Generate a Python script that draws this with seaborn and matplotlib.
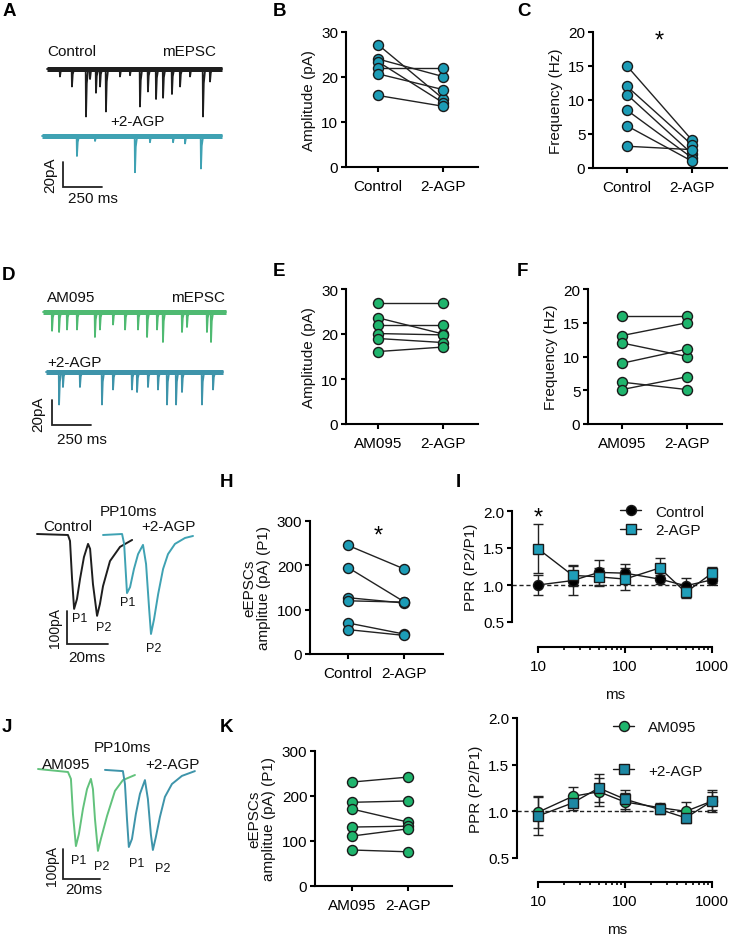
import numpy as np
import pandas as pd
import matplotlib
matplotlib.use("Agg")
import matplotlib.pyplot as plt
from matplotlib.lines import Line2D
from matplotlib.ticker import FixedLocator, NullFormatter, FixedFormatter
import seaborn as sns

sns.set_theme(style="ticks")
plt.rcParams["font.family"] = ["Liberation Sans", "DejaVu Sans"]
plt.rcParams.update({
    "axes.linewidth": 1.5, "xtick.major.width": 1.5, "ytick.major.width": 1.5,
    "xtick.minor.width": 1.2, "xtick.major.size": 3.5, "ytick.major.size": 3.5,
    "xtick.minor.size": 2.2, "xtick.labelsize": 11, "ytick.labelsize": 11,
    "axes.labelsize": 11, "xtick.color": "black", "ytick.color": "black",
    "axes.edgecolor": "black", "text.color": "#111111", "axes.labelcolor": "#111111",
    "xtick.major.pad": 4, "ytick.major.pad": 2,
})

# ---------------- data ----------------
labels_ctrl = ["Control", "2-AGP"]
labels_am = ["AM095", "2-AGP"]

B_control = [27.2, 24.0, 23.4, 22.0, 20.7, 15.9]
B_2agp = [15.2, 20.1, 14.3, 22.0, 17.2, 13.5]
C_control = [15.0, 12.0, 10.8, 8.5, 6.2, 3.2]
C_2agp = [4.1, 3.4, 2.1, 1.5, 1.0, 2.7]
E_am095 = [26.9, 23.6, 22.0, 20.1, 19.0, 16.1]
E_2agp = [26.9, 20.0, 22.0, 19.8, 18.1, 17.1]
F_am095 = [16.0, 13.1, 12.0, 9.0, 6.2, 5.1]
F_2agp = [16.0, 15.0, 10.0, 11.1, 5.1, 7.0]
H_control = [245, 195, 127, 120, 70, 55]
H_2agp = [192, 118, 115, 117, 45, 42]
K_am095 = [231, 186, 171, 131, 111, 80]
K_2agp = [242, 189, 142, 133, 127, 76]

intervals_ms = [10, 25, 50, 100, 250, 500, 1000]
I_ctrl_mean = [1.00, 1.06, 1.17, 1.16, 1.08, 0.99, 1.07]
I_ctrl_sem = [0.14, 0.20, 0.17, 0.13, 0.06, 0.11, 0.04]
I_agp_mean = [1.49, 1.13, 1.11, 1.08, 1.23, 0.90, 1.16]
I_agp_sem = [0.33, 0.14, 0.12, 0.15, 0.13, 0.08, 0.08]
L_am_mean = [0.99, 1.16, 1.21, 1.10, 1.04, 1.00, 1.11]
L_am_sem = [0.17, 0.10, 0.15, 0.10, 0.05, 0.10, 0.10]
L_agp_mean = [0.95, 1.09, 1.25, 1.13, 1.02, 0.93, 1.11]
L_agp_sem = [0.20, 0.08, 0.15, 0.10, 0.05, 0.05, 0.12]

# mEPSC events (ms, pA)
A_ctrl_ev_t = [83, 160, 250, 276, 314, 340, 378, 468, 532, 596, 647, 699, 744, 801, 853, 917, 1000, 1045]
A_ctrl_ev_a = [6, 14, 38, 8, 19, 14, 34, 6, 5, 30, 18, 24, 23, 20, 14, 6, 38, 10]
A_agp_ev_t = [192, 308, 564, 660, 808, 885, 987]
A_agp_ev_a = [16, 4, 29, 5, 5, 6, 26]
D_am_ev_t = [58, 103, 154, 218, 333, 365, 449, 526, 609, 667, 731, 769, 891, 923, 1051, 1077]
D_am_ev_a = [15, 16, 14, 14, 20, 14, 10, 14, 14, 20, 14, 24, 16, 12, 16, 24]
D_agp_ev_t = [103, 128, 237, 378, 449, 570, 603, 673, 737, 795, 853, 891, 1019, 1090]
D_agp_ev_a = [26, 12, 12, 26, 14, 14, 16, 12, 14, 26, 26, 16, 26, 14]

# eEPSC paired-pulse traces (ms, pA)
G_ctrl_t = [0, 15.1, 16.1, 17.1, 18.1, 19.5, 21.0, 22.9, 24.9, 25.9, 27.3, 29.3, 30.7, 32.2, 35.6, 40.5, 46.4]
G_ctrl_v = [0, -3, -21, -136, -227, -197, -136, -70, -30, -45, -152, -248, -212, -158, -82, -39, -18]
G_agp_t = [32.2, 41.5, 42.5, 43.9, 45.4, 47.3, 49.3, 51.7, 53.2, 54.7, 55.6, 57.1, 59.1, 61.5, 63.9, 67.3, 72.2, 76.1]
G_agp_v = [-3, 0, -30, -179, -161, -106, -61, -33, -91, -227, -303, -258, -182, -106, -61, -30, -12, -6]
J_am_t = [0, 16.2, 17.8, 18.9, 20.5, 22.1, 24.3, 26.5, 28.6, 29.7, 30.8, 32.4, 34.0, 37.3, 41.6, 45.9, 52.4]
J_am_v = [0, -10, -33, -150, -257, -217, -133, -67, -33, -67, -167, -273, -233, -157, -73, -37, -20]
J_agp_t = [36.2, 45.9, 47.0, 48.1, 49.1, 50.8, 52.9, 55.1, 57.8, 59.4, 61.0, 62.1, 63.7, 65.9, 68.6, 72.4, 77.8, 84.8]
J_agp_v = [-3, -7, -50, -167, -260, -233, -150, -83, -37, -100, -217, -270, -227, -160, -93, -50, -23, -7]

# ---------------- style ----------------
TEAL = "#1c9cb6"
GREEN = "#1fb56d"
TEAL_SQ = "#1f9fba"
TEAL_SQ2 = "#1d88a3"
EDGE = "#1a1a1a"
TR_BLACK = "#1e1e1e"
TR_TEAL = "#3fa2b3"
TR_GREEN = "#4fba72"
TR_TEAL2 = "#3e94aa"
TR_GREEN2 = "#62c27c"

W, H = 733, 937
fig = plt.figure(figsize=(W / 100, H / 100), dpi=100)


def rect(l, t, r, b):
    return [l / W, 1 - b / H, (r - l) / W, (b - t) / H]


def ftext(x, y, s, **kw):
    kw.setdefault("fontsize", 11)
    kw.setdefault("va", "center")
    fig.text(x / W, 1 - y / H, s, **kw)


def plabel(x, y, s):
    ftext(x, y, s, fontsize=13.5, fontweight="bold", ha="left", color="black")


# ---------------- paired panels ----------------
def paired(box, p0, p1, labels, a, b, color, ylim, yticks, ylabel):
    l, t, r, bt = box
    ax = fig.add_axes(rect(l, t, r, bt))
    n = len(a)
    df = pd.DataFrame({"pos": [0] * n + [1] * n, "val": list(a) + list(b),
                       "pair": list(range(n)) * 2})
    sns.lineplot(data=df, x="pos", y="val", units="pair", estimator=None,
                 color="#222222", lw=1.0, ax=ax, legend=False, zorder=2)
    sns.scatterplot(data=df, x="pos", y="val", color=color, edgecolor=EDGE,
                    linewidth=1.0, s=52, ax=ax, zorder=3, legend=False, clip_on=False)
    s = p1 - p0
    ax.set_xlim((l - p0) / s, 1 + (r - p1) / s)
    ax.set_ylim(*ylim)
    ax.set_yticks(yticks)
    ax.set_xticks([0, 1])
    ax.set_xticklabels(labels)
    ax.set_xlabel("")
    ax.set_ylabel(ylabel, labelpad=4)
    ax.tick_params(axis="x", pad=5)
    sns.despine(ax=ax)
    return ax


paired((346, 33, 478, 168), 378, 443, labels_ctrl, B_control, B_2agp, TEAL,
       (0, 30), [0, 10, 20, 30], "Amplitude (pA)")
paired((593, 33, 727, 169), 627, 692, labels_ctrl, C_control, C_2agp, TEAL,
       (0, 20), [0, 5, 10, 15, 20], "Frequency (Hz)")
paired((346, 290, 478, 425), 378, 443, labels_am, E_am095, E_2agp, GREEN,
       (0, 30), [0, 10, 20, 30], "Amplitude (pA)")
paired((588, 290, 722, 425), 622, 687, labels_am, F_am095, F_2agp, GREEN,
       (0, 20), [0, 5, 10, 15, 20], "Frequency (Hz)")
axH = paired((310, 522, 443, 655), 348, 404, labels_ctrl, H_control, H_2agp, TEAL,
             (0, 300), [0, 100, 200, 300], "eEPSCs\namplitue (pA) (P1)")
axK = paired((315, 752, 452, 887), 352, 408, labels_am, K_am095, K_2agp, GREEN,
             (0, 300), [0, 100, 200, 300], "eEPSCs\namplitue (pA) (P1)")
for a in (axH, axK):
    a.yaxis.label.set_linespacing(1.05)

ftext(659, 42, "*", fontsize=17, ha="center", color="black")
ftext(378, 537, "*", fontsize=17, ha="center", color="black")


# ---------------- PPR panels ----------------
def ppr(box, x10_px, x1000_px, outward_px, m1, s1, m2, s2, c1, c2, labels,
        leg_x, leg_y, leg_space):
    l, t, r, b = box
    ax = fig.add_axes(rect(l, t, r, b))
    ax.set_xscale("log")
    ppd = (x1000_px - x10_px) / 2.0
    ax.set_xlim(10 ** (1 - (x10_px - l) / ppd), 10 ** (3 + (r - x1000_px) / ppd))
    ax.set_ylim(0.5, 2.0)
    ax.axhline(1.0, color="#222222", lw=1.0, ls=(0, (3, 2)), zorder=1)
    for m, s, c, mk, ms in ((m1, s1, c1, "o", 7.2), (m2, s2, c2, "s", 7.0)):
        ax.errorbar(intervals_ms, m, yerr=s, fmt="none", ecolor="#222222",
                    elinewidth=1.0, capsize=3.5, capthick=1.0, zorder=2, clip_on=False)
        sns.lineplot(x=intervals_ms, y=m, color="#1a1a1a", lw=1.0, marker=mk,
                     markersize=ms, markerfacecolor=c, markeredgecolor=EDGE,
                     mew=1.0, ax=ax, zorder=3, clip_on=False)
    ax.set_yticks([0.5, 1.0, 1.5, 2.0])
    ax.set_yticklabels(["0.5", "1.0", "1.5", "2.0"])
    ax.xaxis.set_major_locator(FixedLocator([10, 100, 1000]))
    ax.xaxis.set_major_formatter(FixedFormatter(["10", "100", "1000"]))
    minors = [k * d for d in (10, 100) for k in range(2, 10)]
    ax.xaxis.set_minor_locator(FixedLocator(minors))
    ax.xaxis.set_minor_formatter(NullFormatter())
    ax.tick_params(axis="x", which="major", length=4.5)
    sns.despine(ax=ax)
    ax.spines["bottom"].set_position(("outward", outward_px * 0.72))
    ax.spines["bottom"].set_bounds(10, 1000)
    ax.set_ylabel("PPR (P2/P1)", labelpad=4)
    ax.set_xlabel("ms", labelpad=10)
    handles = [
        Line2D([0], [0], color="#1a1a1a", lw=1.0, marker="o", markersize=7.2,
               markerfacecolor=c1, markeredgecolor=EDGE, mew=1.0),
        Line2D([0], [0], color="#1a1a1a", lw=1.0, marker="s", markersize=7.0,
               markerfacecolor=c2, markeredgecolor=EDGE, mew=1.0),
    ]
    fig.legend(handles, labels, loc="center left",
               bbox_to_anchor=(leg_x / W, 1 - leg_y / H), frameon=False,
               handlelength=1.4, handletextpad=0.9, labelspacing=leg_space,
               fontsize=11, borderpad=0, borderaxespad=0)
    return ax


ppr((512, 512, 718, 623), 538, 712, 25, I_ctrl_mean, I_ctrl_sem, I_agp_mean, I_agp_sem,
    "black", TEAL_SQ, ["Control", "2-AGP"], 620, 522, 0.3)
ftext(538, 519, "*", fontsize=17, ha="center", color="black")
ppr((517, 719, 718, 859), 538, 712, 24, L_am_mean, L_am_sem, L_agp_mean, L_agp_sem,
    GREEN, TEAL_SQ2, ["AM095", "+2-AGP"], 613, 750, 1.9)


# ---------------- traces ----------------
def trace_axes(box, x0, y0, mpp, ppp):
    l, t, r, b = box
    ax = fig.add_axes(rect(l, t, r, b))
    ax.set_xlim((l - x0) * mpp, (r - x0) * mpp)
    ax.set_ylim(-(b - y0) * ppp, (y0 - t) * ppp)
    ax.axis("off")

    def conv(xp, yp):
        return (xp - x0) * mpp, -(yp - y0) * ppp
    return ax, conv


def mepsc(ax, t_start, t_end, ev_t, ev_a, offset, color):
    tt, vv = [t_start], [0.0]
    for t0, a in sorted(zip(ev_t, ev_a)):
        tt += [t0 - 2, t0, t0 + 5, t0 + 14]
        vv += [0, -a, -0.3 * a, 0]
    tt.append(t_end)
    vv.append(0.0)
    vv = [v + offset for v in vv]
    ax.plot([t_start, t_end], [offset, offset], color=color, lw=3.6,
            solid_capstyle="butt")
    sns.lineplot(x=tt, y=vv, sort=False, estimator=None, color=color, lw=1.3, ax=ax)


def scalebar(ax, conv, xp, yp, dx, dy):
    x, y = conv(xp, yp)
    ax.plot([x, x, x + dx], [y + dy, y, y], color="#222222", lw=1.3,
            solid_joinstyle="miter")


# A
axA, cA = trace_axes((30, 40, 232, 205), 47, 70, 250 / 39, 20 / 25)
mepsc(axA, 0, 1122, A_ctrl_ev_t, A_ctrl_ev_a, 0.0, TR_BLACK)
mepsc(axA, -32, 1122, A_agp_ev_t, A_agp_ev_a, -53.6, TR_TEAL)
scalebar(axA, cA, 63, 188, 250, 20)
ftext(47, 52, "Control", ha="left")
ftext(216, 52, "mEPSC", ha="right")
ftext(110, 122, "+2-AGP", ha="left")
ftext(50, 175, "20pA", ha="center", rotation=90)
ftext(93, 199, "250 ms", ha="center")

# D
axD, cD = trace_axes((30, 290, 232, 450), 43, 313, 250 / 39, 20 / 25)
mepsc(axD, 0, 1173, D_am_ev_t, D_am_ev_a, 0.0, TR_GREEN)
mepsc(axD, 19, 1154, D_agp_ev_t, D_agp_ev_a, -48.0, TR_TEAL2)
scalebar(axD, cD, 52, 426, 250, 20)
ftext(47, 298, "AM095", ha="left")
ftext(225, 298, "mEPSC", ha="right")
ftext(47, 363, "+2-AGP", ha="left")
ftext(38, 414, "20pA", ha="center", rotation=90)
ftext(82, 440, "250 ms", ha="center")

# G (eEPSC control)
axG, cG = trace_axes((30, 495, 205, 670), 37, 535, 20 / 41, 100 / 33)
sns.lineplot(x=G_ctrl_t, y=G_ctrl_v, sort=False, estimator=None, color=TR_BLACK, lw=1.4, ax=axG)
sns.lineplot(x=G_agp_t, y=G_agp_v, sort=False, estimator=None, color=TR_TEAL, lw=1.4, ax=axG)
scalebar(axG, cG, 67, 645, 20, 100)
ftext(128, 512, "PP10ms", ha="center")
ftext(43, 527, "Control", ha="left")
ftext(141, 527, "+2-AGP", ha="left")
for (x, y, s) in [(80, 619, "P1"), (104, 628, "P2"), (128, 603, "P1"), (154, 649, "P2")]:
    ftext(x, y, s, ha="center", fontsize=9)
ftext(55, 628, "100pA", ha="center", rotation=90, fontsize=10)
ftext(87, 658, "20ms", ha="center")

# J (eEPSC AM095)
axJ, cJ = trace_axes((30, 740, 205, 905), 38, 770, 20 / 37, 100 / 30)
sns.lineplot(x=J_am_t, y=J_am_v, sort=False, estimator=None, color=TR_GREEN2, lw=1.4, ax=axJ)
sns.lineplot(x=J_agp_t, y=J_agp_v, sort=False, estimator=None, color=TR_TEAL2, lw=1.4, ax=axJ)
scalebar(axJ, cJ, 63, 880, 20, 100)
ftext(122, 748, "PP10ms", ha="center")
ftext(42, 765, "AM095", ha="left")
ftext(145, 765, "+2-AGP", ha="left")
for (x, y, s) in [(79, 861, "P1"), (102, 867, "P2"), (137, 864, "P1"), (163, 869, "P2")]:
    ftext(x, y, s, ha="center", fontsize=9)
ftext(52, 866, "100pA", ha="center", rotation=90, fontsize=10)
ftext(84, 890, "20ms", ha="center")

# panel letters
plabel(3, 11, "A")
plabel(273, 12, "B")
plabel(517, 11, "C")
plabel(2, 275, "D")
plabel(273, 272, "E")
plabel(517, 271, "F")
plabel(220, 483, "H")
plabel(456, 483, "I")
plabel(2, 728, "J")
plabel(220, 728, "K")

fig.savefig("out.png", dpi=100, facecolor="white")
